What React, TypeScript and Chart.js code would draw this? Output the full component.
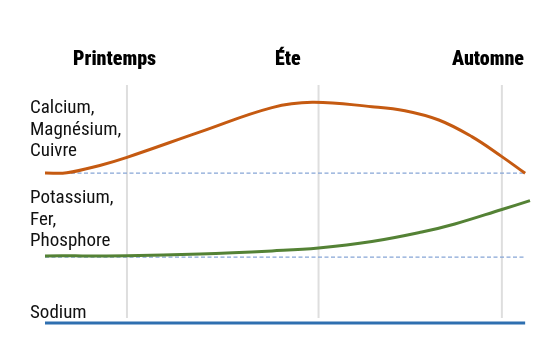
import React, { useEffect, useRef } from "react";
import { Chart, registerables } from "chart.js";

Chart.register(...registerables);

// Column headers (seasons)
const seasons = ["Printemps", "Éte", "Automne"];
// Row labels (mineral groups)
const groupLabels = [
  ["Calcium,", "Magnésium,", "Cuivre"],
  ["Potassium,", "Fer,", "Phosphore"],
  ["Sodium"],
];

// Time axis 0..100 (year progress); level axis 0..100
const orangeX = [0, 4.5, 11.3, 16.9, 32.0, 46.8, 55.1, 67.4, 74.2, 81.2, 88.0, 94.2, 99.0];
const orangeY = [63.0, 63.1, 66.2, 69.6, 80.3, 90.5, 92.7, 90.9, 89.2, 85.3, 78.3, 69.9, 62.9];

const greenX = [0, 16.9, 32.0, 46.8, 56.4, 67.4, 77.7, 84.5, 94.2, 100];
const greenY = [28.2, 28.3, 29.0, 30.3, 31.5, 34.2, 38.2, 41.6, 47.7, 51.4];

const blueX = [0, 99];
const blueY = [0, 0];

const orangeBase = 63.0;
const greenBase = 27.7;
const baseStart = 0;
const baseEnd = 99;

const gridX = [16.9, 56.4, 94.2];
const gridTop = 100;
const gridBottom = 2.1;

const zip = (xs: number[], ys: number[]) => xs.map((x, i) => ({ x, y: ys[i] }));

const FONT = '"Liberation Sans Narrow", "Roboto Condensed", "DejaVu Sans Condensed", sans-serif';

export default function App() {
  const ref = useRef<HTMLCanvasElement>(null);

  useEffect(() => {
    if (!ref.current) return;
    const gridSets = gridX.map((g) => ({
      data: [
        { x: g, y: gridTop },
        { x: g, y: gridBottom },
      ],
      borderColor: "#dedede",
      borderWidth: 2,
      pointRadius: 0,
      order: 10,
    }));
    const chart = new Chart(ref.current, {
      type: "line",
      data: {
        datasets: [
          ...gridSets,
          {
            data: [
              { x: baseStart, y: orangeBase },
              { x: baseEnd, y: orangeBase },
            ],
            borderColor: "#86a5d6",
            borderWidth: 1.3,
            borderDash: [4, 2.5],
            pointRadius: 0,
            order: 5,
          },
          {
            data: [
              { x: baseStart, y: greenBase },
              { x: baseEnd, y: greenBase },
            ],
            borderColor: "#86a5d6",
            borderWidth: 1.3,
            borderDash: [4, 2.5],
            pointRadius: 0,
            order: 5,
          },
          {
            data: zip(orangeX, orangeY),
            borderColor: "#c55a11",
            borderWidth: 3,
            pointRadius: 0,
            tension: 0.4,
            order: 1,
          },
          {
            data: zip(greenX, greenY),
            borderColor: "#548235",
            borderWidth: 3,
            pointRadius: 0,
            tension: 0.4,
            order: 1,
          },
          {
            data: zip(blueX, blueY),
            borderColor: "#2e6fb0",
            borderWidth: 3,
            pointRadius: 0,
            order: 1,
          },
        ] as any,
      },
      options: {
        animation: false,
        responsive: false,
        maintainAspectRatio: false,
        clip: false as any,
        layout: { padding: { left: 45, right: 14, top: 85, bottom: 41 } },
        plugins: { legend: { display: false }, tooltip: { enabled: false } },
        scales: {
          x: { type: "linear", min: 0, max: 100, display: false },
          y: { type: "linear", min: 0, max: 100, display: false },
        },
      },
    });
    return () => chart.destroy();
  }, []);

  const labelStyle: React.CSSProperties = {
    position: "absolute",
    fontFamily: FONT,
    fontSize: 19,
    lineHeight: "21.7px",
    color: "#111",
    whiteSpace: "nowrap",
  };
  const headStyle: React.CSSProperties = {
    ...labelStyle,
    fontSize: 20,
    fontWeight: 900,
    color: "#000",
  };

  return (
    <div style={{ position: "fixed", left: 0, top: 0, width: 544, height: 364, background: "#fff" }}>
      <canvas ref={ref} width={544} height={364} style={{ position: "absolute", left: 0, top: 0 }} />
      <div style={{ ...headStyle, left: 73, top: 47.5 }}>{seasons[0]}</div>
      <div style={{ ...headStyle, left: 275, top: 47.5 }}>{seasons[1]}</div>
      <div style={{ ...headStyle, right: 20, top: 47.5 }}>{seasons[2]}</div>
      <div style={{ ...labelStyle, left: 30, top: 95.9 }}>
        {groupLabels[0].map((l, i) => (
          <div key={i}>{l}</div>
        ))}
      </div>
      <div style={{ ...labelStyle, left: 30, top: 185.9 }}>
        {groupLabels[1].map((l, i) => (
          <div key={i}>{l}</div>
        ))}
      </div>
      <div style={{ ...labelStyle, left: 30, top: 300.5 }}>
        {groupLabels[2].map((l, i) => (
          <div key={i}>{l}</div>
        ))}
      </div>
    </div>
  );
}
